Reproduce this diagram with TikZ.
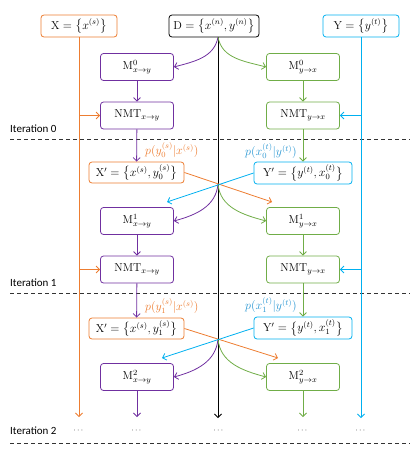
\documentclass[tikz,border=0pt]{standalone}
\usepackage{amsmath}
\usepackage{fontspec}
\newfontfamily\itfont{Carlito}
\usetikzlibrary{arrows.meta}
\definecolor{cor}{RGB}{237,125,49}
\definecolor{cpu}{RGB}{112,48,160}
\definecolor{cgr}{RGB}{112,173,71}
\definecolor{cbl}{RGB}{0,176,240}
\definecolor{cbt}{RGB}{40,150,210}
\tikzset{
  box/.style={draw, rounded corners=3pt, fill=white, inner sep=0pt,
    minimum width=73pt, minimum height=27pt, line width=0.8pt,
    font=\fontsize{11.5}{13}\selectfont},
  topbox/.style={box, minimum height=22pt},
  pbox/.style={box, draw=cpu},
  gbox/.style={box, draw=cgr},
  obox/.style={box, draw=cor, minimum width=95pt, minimum height=21pt},
  bbox/.style={box, draw=cbl, minimum width=98pt, minimum height=22pt},
  itlabel/.style={anchor=west, inner sep=0pt, font=\itfont\fontsize{11}{12}\selectfont},
  plabel/.style={inner sep=0pt, font=\fontsize{11.5}{14}\selectfont},
  dots/.style={inner sep=0pt, font=\fontsize{8}{10}\selectfont},
  sep/.style={dash pattern=on 4pt off 3pt, line width=0.7pt, black!80},
  conn/.style={line width=0.8pt, -{Straight Barb[length=3.5pt,width=7pt]}},
}
\begin{document}
\begin{tikzpicture}[x=1pt,y=-1pt]
\useasboundingbox (0,0) rectangle (410,455);

% top boxes
\node[topbox, draw=cor, minimum width=76pt] (X) at (79,26) {$\mathrm{X}=\bigl\{x^{(s)}\bigr\}$};
\node[topbox, draw=black, minimum width=90pt] (D) at (214,26) {$\mathrm{D}=\bigl\{x^{(n)},y^{(n)}\bigr\}$};
\node[topbox, draw=cbl, minimum width=76pt] (Y) at (361,26) {$\mathrm{Y}=\bigl\{y^{(t)}\bigr\}$};
\coordinate (Dbot) at (218,37);

% column ends
\coordinate (Xend) at (79,417);
\coordinate (Dend) at (218,418);
\coordinate (Yend) at (361,418);
\coordinate (Pend) at (137,417);
\coordinate (Gend) at (303,417);

% iteration 0
\node[pbox] (M0x) at (137,67) {$\mathrm{M}^{0}_{x\to y}$};
\node[pbox] (N0x) at (137,115.5) {$\mathrm{NMT}_{x\to y}$};
\node[gbox] (M0y) at (303,67) {$\mathrm{M}^{0}_{y\to x}$};
\node[gbox] (N0y) at (303,115.5) {$\mathrm{NMT}_{y\to x}$};

% iteration 1
\node[obox] (Xp0) at (136.5,172.5) {$\mathrm{X}'=\bigl\{x^{(s)},y_0^{(s)}\bigr\}$};
\node[bbox] (Yp0) at (303,173) {$\mathrm{Y}'=\bigl\{y^{(t)},x_0^{(t)}\bigr\}$};
\node[plabel, text=cor, anchor=west] (L0x) at (145,150) {$p(y_0^{(s)}|x^{(s)})$};
\node[plabel, text=cbt, anchor=east] (L0y) at (297,151) {$p(x_0^{(t)}|y^{(t)})$};
\node[pbox] (M1x) at (137,221) {$\mathrm{M}^{1}_{x\to y}$};
\node[pbox] (N1x) at (137,269.5) {$\mathrm{NMT}_{x\to y}$};
\node[gbox] (M1y) at (303,221) {$\mathrm{M}^{1}_{y\to x}$};
\node[gbox] (N1y) at (303,269.5) {$\mathrm{NMT}_{y\to x}$};
\coordinate (c0) at (218,184);
\coordinate (o0) at (272,202);
\coordinate (b0) at (167,202);

% iteration 2
\node[obox] (Xp1) at (136.5,328.5) {$\mathrm{X}'=\bigl\{x^{(s)},y_1^{(s)}\bigr\}$};
\node[bbox] (Yp1) at (303,328) {$\mathrm{Y}'=\bigl\{y^{(t)},x_1^{(t)}\bigr\}$};
\node[plabel, text=cor, anchor=west] (L1x) at (145,306) {$p(y_1^{(s)}|x^{(s)})$};
\node[plabel, text=cbt, anchor=east] (L1y) at (297,305) {$p(x_1^{(t)}|y^{(t)})$};
\node[pbox] (M2x) at (137,377) {$\mathrm{M}^{2}_{x\to y}$};
\node[gbox] (M2y) at (303,377) {$\mathrm{M}^{2}_{y\to x}$};
\coordinate (c1) at (218,339);
\coordinate (o1) at (278,358);
\coordinate (b1) at (162,358);

% iteration labels and separators
\node[itlabel] (I0) at (10,129) {Iteration 0};
\node[itlabel] (I1) at (10,283) {Iteration 1};
\node[itlabel] (I2) at (10,431) {Iteration 2};
\draw[sep] (10,139) -- (410,139);
\draw[sep] (10,293) -- (410,293);
\draw[sep] (10,443) -- (410,443);

% dots
\node[dots] (d1) at (79,431) {$\cdots$};
\node[dots] (d2) at (137,431) {$\cdots$};
\node[dots] (d3) at (219,431) {$\cdots$};
\node[dots] (d4) at (303,431) {$\cdots$};
\node[dots] (d5) at (361,431) {$\cdots$};

% vertical trunks
\draw[conn, cor] (X) -- (Xend);
\draw[conn, black] (Dbot) -- (Dend);
\draw[conn, cbl] (Y) -- (Yend);

% feeds into NMT
\draw[conn, cor] (N0x.west -| X.south) -- (N0x.west);
\draw[conn, cor] (N1x.west -| X.south) -- (N1x.west);
\draw[conn, cbl] (N0y.east -| Y.south) -- (N0y.east);
\draw[conn, cbl] (N1y.east -| Y.south) -- (N1y.east);

% purple chain
\draw[conn, cpu] (M0x) -- (N0x);
\draw[conn, cpu] (N0x) -- (Xp0);
\draw[conn, cpu] (M1x) -- (N1x);
\draw[conn, cpu] (N1x) -- (Xp1);
\draw[conn, cpu] (M2x) -- (Pend);
% green chain
\draw[conn, cgr] (M0y) -- (N0y);
\draw[conn, cgr] (N0y) -- (Yp0);
\draw[conn, cgr] (M1y) -- (N1y);
\draw[conn, cgr] (N1y) -- (Yp1);
\draw[conn, cgr] (M2y) -- (Gend);

% curves
\draw[conn, cpu] (Dbot) to[out=-100, in=15] (M0x.east);
\draw[conn, cgr] (Dbot) to[out=-80, in=165] (M0y.west);
\draw[conn, cpu] (c0) to[out=-95, in=15] (M1x.east);
\draw[conn, cgr] (c0) to[out=-85, in=165] (M1y.west);
\draw[conn, cpu] (c1) to[out=-95, in=15] (M2x.east);
\draw[conn, cgr] (c1) to[out=-85, in=165] (M2y.west);

% crossings
\draw[conn, cor] (Xp0.east) -- (o0);
\draw[conn, cbl] (Yp0.west) -- (b0);
\draw[conn, cor] (Xp1.east) -- (o1);
\draw[conn, cbl] (Yp1.west) -- (b1);
\end{tikzpicture}
\end{document}
